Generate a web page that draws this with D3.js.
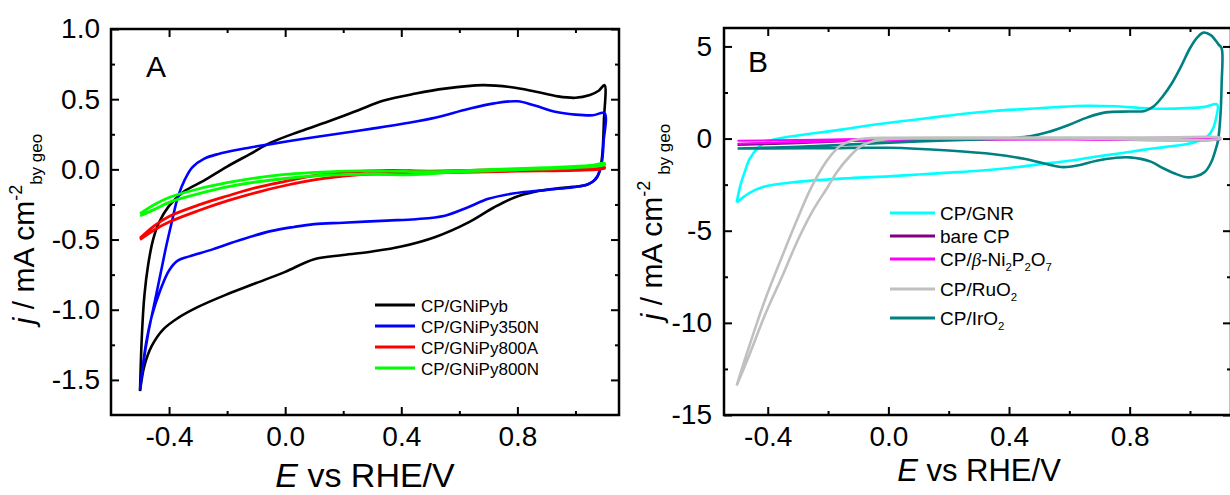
<!DOCTYPE html>
<html>
<head>
<meta charset="utf-8">
<script src="https://cdn.jsdelivr.net/npm/d3@7"></script>
<style>
  body { margin: 0; background: #fff; }
  svg { display: block; font-family: "Liberation Sans", Arial, sans-serif; }
</style>
</head>
<body>
<svg id="chart" width="1230" height="495"></svg>
<script>
// ---- panel A : CVs of the GNiPy electrodes, [E (V vs RHE), j (mA cm-2)] ----
const gniPyb = [
  [-0.5,-1.58],[-0.494,-1.2],[-0.485,-0.9],[-0.472,-0.68],[-0.455,-0.5],[-0.435,-0.38],[-0.4,-0.26],
  [-0.35,-0.16],[-0.28,-0.08],[-0.2,0.02],[-0.12,0.11],[-0.05,0.19],[0.05,0.27],[0.16,0.35],[0.25,0.42],
  [0.34,0.49],[0.45,0.54],[0.55,0.575],[0.68,0.6],[0.78,0.585],[0.86,0.555],[0.94,0.52],[1.0,0.51],
  [1.05,0.53],[1.08,0.56],[1.1,0.6],
  [1.098,0.35],[1.093,0.12],[1.085,0.0],[1.07,-0.07],[1.04,-0.11],[0.99,-0.125],[0.92,-0.14],[0.86,-0.16],
  [0.79,-0.2],[0.72,-0.27],[0.63,-0.38],[0.52,-0.48],[0.4,-0.55],[0.3,-0.585],[0.2,-0.61],[0.1,-0.64],
  [0.0,-0.73],[-0.1,-0.81],[-0.2,-0.89],[-0.3,-0.98],[-0.37,-1.06],[-0.42,-1.14],[-0.46,-1.26],
  [-0.485,-1.4],[-0.5,-1.58]
];
const gniPy350N = [
  [-0.5,-1.57],[-0.49,-1.4],[-0.472,-1.17],[-0.45,-0.95],[-0.43,-0.75],[-0.41,-0.55],[-0.39,-0.37],
  [-0.37,-0.2],[-0.345,-0.07],[-0.32,0.015],[-0.28,0.075],[-0.23,0.11],[-0.15,0.145],[-0.05,0.18],
  [0.07,0.22],[0.17,0.25],[0.3,0.29],[0.42,0.33],[0.52,0.37],[0.63,0.43],[0.72,0.47],[0.8,0.485],
  [0.86,0.455],[0.93,0.41],[1.0,0.39],[1.06,0.385],[1.1,0.4],
  [1.097,0.2],[1.09,0.04],[1.075,-0.05],[1.05,-0.1],[1.0,-0.125],[0.93,-0.14],[0.86,-0.155],[0.79,-0.17],
  [0.7,-0.21],[0.63,-0.27],[0.55,-0.33],[0.45,-0.355],[0.35,-0.365],[0.2,-0.38],[0.1,-0.39],[0.03,-0.41],
  [-0.05,-0.44],[-0.15,-0.5],[-0.25,-0.57],[-0.33,-0.62],[-0.37,-0.65],[-0.4,-0.72],[-0.43,-0.86],
  [-0.46,-1.05],[-0.48,-1.25],[-0.5,-1.57]
];
const gniPy800A = [
  [-0.5,-0.49],[-0.45,-0.4],[-0.4,-0.335],[-0.3,-0.255],[-0.2,-0.19],[-0.1,-0.13],[0.0,-0.085],[0.1,-0.045],
  [0.2,-0.022],[0.35,-0.008],[0.5,-0.012],[0.7,-0.003],[0.9,0.002],[1.05,0.007],[1.1,0.015],
  [1.1,0.008],[1.0,-0.007],[0.8,-0.012],[0.6,-0.022],[0.4,-0.025],[0.25,-0.04],[0.1,-0.075],[0.0,-0.115],
  [-0.1,-0.165],[-0.2,-0.225],[-0.3,-0.295],[-0.4,-0.375],[-0.45,-0.43],[-0.5,-0.5]
];
const gniPy800N = [
  [-0.5,-0.315],[-0.45,-0.25],[-0.4,-0.2],[-0.3,-0.14],[-0.2,-0.095],[-0.1,-0.06],[0.0,-0.035],[0.1,-0.022],
  [0.2,-0.012],[0.35,-0.012],[0.5,-0.017],[0.7,-0.002],[0.9,0.013],[1.05,0.028],[1.1,0.043],
  [1.1,0.033],[1.0,0.013],[0.8,-0.003],[0.6,-0.018],[0.45,-0.038],[0.3,-0.035],[0.15,-0.04],[0.0,-0.065],
  [-0.1,-0.09],[-0.2,-0.125],[-0.3,-0.175],[-0.4,-0.235],[-0.45,-0.285],[-0.5,-0.33]
];

// ---- panel B : reference electrodes ----
const gnr = [
  [-0.503,-3.47],[-0.49,-2.5],[-0.475,-1.75],[-0.46,-1.1],[-0.43,-0.47],[-0.39,-0.1],[-0.33,0.1],
  [-0.24,0.3],[-0.15,0.5],[-0.05,0.75],[0.05,0.95],[0.15,1.15],[0.25,1.35],[0.35,1.5],[0.45,1.6],
  [0.55,1.7],[0.66,1.78],[0.75,1.75],[0.82,1.68],[0.9,1.62],[0.99,1.65],[1.05,1.72],[1.09,1.85],
  [1.085,1.0],[1.075,0.5],[1.06,0.15],[1.04,-0.05],[0.99,-0.3],[0.92,-0.45],[0.85,-0.6],[0.77,-0.8],
  [0.68,-1.0],[0.6,-1.2],[0.5,-1.4],[0.4,-1.6],[0.3,-1.75],[0.2,-1.85],[0.1,-1.95],[0.0,-2.05],
  [-0.13,-2.15],[-0.3,-2.35],[-0.41,-2.6],[-0.46,-2.95],[-0.503,-3.47]
];
const bareCP = [
  [-0.5,-0.3],[-0.3,-0.2],[-0.1,-0.08],[0.2,-0.02],[0.6,0.0],[1.1,0.0],
  [1.1,-0.02],[0.6,-0.03],[0.2,-0.05],[-0.1,-0.12],[-0.3,-0.25],[-0.5,-0.35]
];
const ni2p2o7 = [
  [-0.5,-0.12],[-0.3,-0.08],[-0.1,-0.03],[0.2,0.0],[0.6,0.0],[1.1,-0.02],
  [1.1,-0.05],[0.6,-0.05],[0.2,-0.06],[-0.1,-0.12],[-0.3,-0.2],[-0.5,-0.28]
];
const ruO2 = [
  [-0.503,-13.4],[-0.48,-12.2],[-0.46,-11.2],[-0.41,-8.8],[-0.35,-6.3],[-0.3,-4.3],[-0.26,-2.8],
  [-0.22,-1.6],[-0.19,-0.9],[-0.16,-0.4],[-0.12,-0.1],[-0.08,0.0],[0.0,0.04],[0.3,0.05],[0.6,0.05],
  [0.9,0.05],[1.1,0.05],
  [1.1,0.0],[0.6,0.0],[0.2,0.0],[0.0,-0.02],[-0.05,-0.15],[-0.09,-0.4],[-0.13,-1.0],[-0.17,-1.8],
  [-0.2,-2.6],[-0.25,-3.9],[-0.3,-5.5],[-0.35,-7.4],[-0.41,-9.6],[-0.46,-11.7],[-0.503,-13.4]
];
const irO2 = [
  [-0.5,-0.54],[-0.3,-0.45],[-0.1,-0.3],[0.1,-0.15],[0.3,-0.05],[0.4,0.02],[0.47,0.12],[0.53,0.35],
  [0.6,0.75],[0.66,1.15],[0.72,1.42],[0.8,1.47],[0.85,1.5],[0.88,1.75],[0.91,2.3],[0.94,3.0],
  [0.97,3.9],[1.0,4.9],[1.025,5.5],[1.045,5.75],[1.07,5.6],[1.095,5.1],[1.105,4.9],
  [1.105,3.0],[1.1,1.0],[1.093,-0.1],[1.085,-0.6],[1.07,-1.3],[1.05,-1.8],[1.02,-2.05],[0.99,-2.1],
  [0.95,-1.9],[0.91,-1.6],[0.87,-1.25],[0.8,-1.02],[0.75,-1.05],[0.69,-1.2],[0.63,-1.45],[0.58,-1.55],
  [0.53,-1.4],[0.45,-1.1],[0.35,-0.85],[0.2,-0.65],[0.0,-0.5],[-0.2,-0.52],[-0.4,-0.53],[-0.5,-0.54]
];

const xMajor = [-0.4, 0.0, 0.4, 0.8];
const xMinor = [-0.2, 0.2, 0.6, 1.0];
const yMajorA = [-1.5, -1.0, -0.5, 0.0, 0.5, 1.0];
const yMinorA = [-1.25, -0.75, -0.25, 0.25, 0.75];
const yMajorB = [-15, -10, -5, 0, 5];
const yMinorB = [-12.5, -7.5, -2.5, 2.5];

const svg = d3.select("#chart");
const FONT = '"Liberation Sans", Arial, sans-serif';

function drawPanel(p) {
  const x = d3.scaleLinear().domain(p.xDomain).range(p.xRange);
  const y = d3.scaleLinear().domain(p.yDomain).range(p.yRange);
  const g = svg.append("g");
  const [x0, x1] = p.xRange, [y0, y1] = p.yRange;

  const addAxis = (axis, tx, ty, labels) => {
    const a = g.append("g").attr("transform", `translate(${tx},${ty})`)
      .call(axis).attr("font-size", 28).attr("font-family", FONT);
    a.select(".domain").remove();
    a.selectAll("line").attr("stroke", "#000").attr("stroke-width", 2);
    if (!labels) a.selectAll("text").remove();
    return a;
  };
  // inward ticks on all four sides
  addAxis(d3.axisBottom(x).tickValues(xMajor).tickSize(-8).tickPadding(11).tickFormat(d => d.toFixed(1)), 0, y0, true);
  addAxis(d3.axisBottom(x).tickValues(xMinor).tickSize(-4), 0, y0, false);
  addAxis(d3.axisTop(x).tickValues(xMajor).tickSize(-8), 0, y1, false);
  addAxis(d3.axisTop(x).tickValues(xMinor).tickSize(-4), 0, y1, false);
  addAxis(d3.axisLeft(y).tickValues(p.yMajor).tickSize(-8).tickPadding(p.yPad).tickFormat(p.yFmt), x0, 0, true);
  addAxis(d3.axisLeft(y).tickValues(p.yMinor).tickSize(-4), x0, 0, false);
  addAxis(d3.axisRight(y).tickValues(p.yMajor).tickSize(-8), x1, 0, false);
  addAxis(d3.axisRight(y).tickValues(p.yMinor).tickSize(-4), x1, 0, false);

  g.append("rect").attr("x", x0).attr("y", y1).attr("width", x1 - x0).attr("height", y0 - y1)
    .attr("fill", "none").attr("stroke", "#000").attr("stroke-width", 2.5);

  const line = d3.line().x(d => x(d[0])).y(d => y(d[1])).curve(d3.curveCatmullRom.alpha(0.5));
  p.series.forEach(s => {
    g.append("path").datum(s.data).attr("d", line)
      .attr("fill", "none").attr("stroke", s.color).attr("stroke-width", s.width || 2.6)
      .attr("stroke-linejoin", "round");
  });
  return { x, y, g };
}

const A = drawPanel({
  xDomain: [-0.6, 1.15], xRange: [111, 619],
  yDomain: [-1.75, 1.0], yRange: [415, 29],
  yMajor: yMajorA, yMinor: yMinorA, yPad: 11, yFmt: d => d.toFixed(1),
  series: [
    { data: gniPyb, color: "#000000" },
    { data: gniPy350N, color: "#0000ff" },
    { data: gniPy800A, color: "#ff0000", width: 2.8 },
    { data: gniPy800N, color: "#00ff00", width: 2.8 }
  ]
});

const B = drawPanel({
  xDomain: [-0.545, 1.136], xRange: [724, 1231],
  yDomain: [-15, 6], yRange: [415, 28],
  yMajor: yMajorB, yMinor: yMinorB, yPad: 12, yFmt: d => String(d),
  series: [
    { data: gnr, color: "#00ffff" },
    { data: bareCP, color: "#800080", width: 2 },
    { data: ni2p2o7, color: "#ff00ff", width: 2 },
    { data: irO2, color: "#008080" },
    { data: ruO2, color: "#c0c0c0" }
  ]
});

// panel letters
svg.append("text").attr("x", 146).attr("y", 77).attr("font-size", 30).text("A");
svg.append("text").attr("x", 748).attr("y", 72).attr("font-size", 30).text("B");

// x titles
function xTitle(cx, cy, size) {
  const t = svg.append("text").attr("x", cx).attr("y", cy).attr("font-size", size)
    .attr("text-anchor", "middle");
  t.append("tspan").attr("font-style", "italic").text("E");
  t.append("tspan").text(" vs RHE/V");
}
xTitle(365, 487, 34);
xTitle(979, 481, 31);

// y titles
function yTitle(cx, cy, gap) {
  const t = svg.append("text").attr("transform", `translate(${cx},${cy}) rotate(-90)`)
    .attr("font-size", 30).attr("text-anchor", "middle");
  t.append("tspan").attr("font-style", "italic").text("j");
  t.append("tspan").text(" / mA cm");
  t.append("tspan").attr("font-size", 18).attr("dy", -12).text("-2");
  t.append("tspan").attr("font-size", 17).attr("dy", 20).attr("dx", gap).text("by geo");
}
yTitle(34, 229, 0);
yTitle(662, 222, 6);

// legends
function legend(items, lx0, lx1, tx, size) {
  items.forEach(it => {
    svg.append("line").attr("x1", lx0).attr("x2", lx1).attr("y1", it.y).attr("y2", it.y)
      .attr("stroke", it.color).attr("stroke-width", 3);
    const t = svg.append("text").attr("x", tx).attr("y", it.y + 7).attr("font-size", size);
    it.parts.forEach(pt => {
      const s = t.append("tspan").text(pt[0]);
      if (pt[1] === "sub") s.attr("font-size", size * 0.6).attr("dy", 5);
      if (pt[1] === "up") s.attr("dy", -5);
      if (pt[1] === "beta") s.attr("font-family", '"Liberation Serif", serif').attr("font-style", "italic");
    });
  });
}
legend([
  { y: 305, color: "#000000", parts: [["CP/GNiPyb"]] },
  { y: 326, color: "#0000ff", parts: [["CP/GNiPy350N"]] },
  { y: 347, color: "#ff0000", parts: [["CP/GNiPy800A"]] },
  { y: 368, color: "#00ff00", parts: [["CP/GNiPy800N"]] }
], 375, 415, 421, 17);
legend([
  { y: 213, color: "#00ffff", parts: [["CP/GNR"]] },
  { y: 236, color: "#800080", parts: [["bare CP"]] },
  { y: 259, color: "#ff00ff", parts: [["CP/"], ["β", "beta"], ["-Ni"], ["2", "sub"], ["P", "up"], ["2", "sub"], ["O", "up"], ["7", "sub"]] },
  { y: 289, color: "#c0c0c0", parts: [["CP/RuO"], ["2", "sub"]] },
  { y: 318, color: "#008080", parts: [["CP/IrO"], ["2", "sub"]] }
], 890, 935, 940, 19);
</script>
</body>
</html>
